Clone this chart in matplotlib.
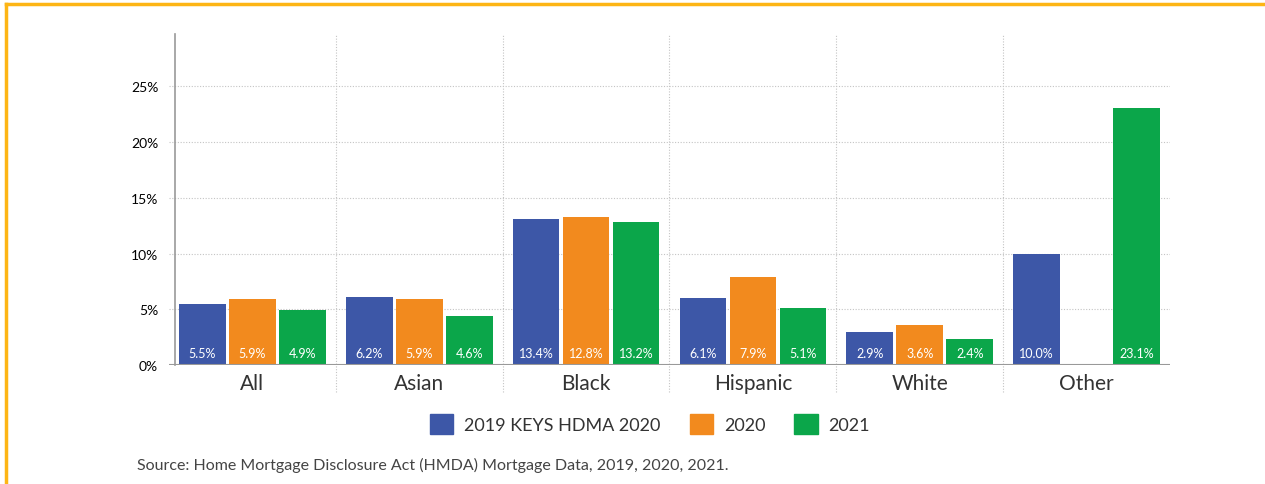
import numpy as np
import matplotlib.pyplot as plt
from matplotlib.lines import Line2D
from matplotlib.patches import Patch

plt.rcParams['font.family'] = ['Lato', 'DejaVu Sans']

categories = ['All', 'Asian', 'Black', 'Hispanic', 'White', 'Other']
series_names = ['2019 KEYS HDMA 2020', '2020', '2021']
# bar heights as drawn in the chart (percent)
v2019 = [5.5, 6.1, 13.1, 6.0, 3.0, 10.0]
v2020 = [5.9, 5.9, 13.3, 7.9, 3.6, np.nan]
v2021 = [4.9, 4.4, 12.8, 5.1, 2.3, 23.1]
# printed labels inside the bars
l2019 = ['5.5%', '6.2%', '13.4%', '6.1%', '2.9%', '10.0%']
l2020 = ['5.9%', '5.9%', '12.8%', '7.9%', '3.6%', '']
l2021 = ['4.9%', '4.6%', '13.2%', '5.1%', '2.4%', '23.1%']
yticks = [0, 5, 10, 15, 20, 25]
ytick_labels = ['0%', '5%', '10%', '15%', '20%', '25%']
source = 'Source: Home Mortgage Disclosure Act (HMDA) Mortgage Data, 2019, 2020, 2021.'

colors = ['#3D57A7', '#F28A1E', '#0BA64A']

fig = plt.figure(figsize=(12.65, 4.85), dpi=100)
ax = fig.add_axes([169 / 1265, 1 - 366 / 485, (1170 - 169) / 1265, (366 - 35) / 485])

x = np.arange(len(categories))
w = 0.28
off = 0.30
for i, (vals, labs) in enumerate(zip([v2019, v2020, v2021], [l2019, l2020, l2021])):
    xs = x + (i - 1) * off
    ax.bar(xs, vals, width=w, color=colors[i], zorder=3)
    for xi, lab in zip(xs, labs):
        if lab:
            ax.text(xi, 0.5, lab, ha='center', va='bottom', color='white',
                    fontsize=9, zorder=4)

ax.set_xlim(-0.5, 5.5)
ax.set_ylim(0, 29.7)
ax.set_yticks(yticks)
ax.set_yticklabels(ytick_labels, fontsize=13, color='#333333')
ax.set_xticks(x)
ax.set_xticklabels(categories, fontsize=15, color='#333333')
ax.tick_params(axis='both', length=0)
ax.tick_params(axis='y', pad=12)
ax.tick_params(axis='x', pad=6)

for y in yticks[1:]:
    ax.axhline(y, color='#c4c4c4', linestyle=(0, (1, 1.5)), linewidth=0.8, zorder=1)
for sx in np.arange(0.5, 5.5, 1.0):
    ax.plot([sx, sx], [-2.4, 29.7], color='#c4c4c4', linestyle=(0, (1, 1.5)),
            linewidth=0.8, zorder=1, clip_on=False)

for s in ['top', 'right', 'bottom']:
    ax.spines[s].set_visible(False)
ax.spines['left'].set_color('#999999')
ax.spines['left'].set_position(('data', -0.465))
ax.spines['left'].set_linewidth(1.2)
ax.axhline(0, color='#999999', linewidth=1.5, zorder=5)

handles = [Patch(color=c) for c in colors]
fig.legend(handles, series_names, loc='center', bbox_to_anchor=(650 / 1265, 1 - 425 / 485),
           ncol=3, frameon=False, fontsize=13, handlelength=1.3, handleheight=1.3,
           handletextpad=0.6, columnspacing=1.6, labelcolor='#333333')

fig.text(137 / 1265, 1 - 465 / 485, source, fontsize=11.5, color='#444444', va='center')

# orange frame (top and left edges)
fig.add_artist(Line2D([6 / 1265, 1], [1 - 5 / 485, 1 - 5 / 485], color='#FDB515', linewidth=2.5))
fig.add_artist(Line2D([6 / 1265, 6 / 1265], [0, 1 - 5 / 485], color='#FDB515', linewidth=2.5))

fig.savefig('out.png', dpi=100)
